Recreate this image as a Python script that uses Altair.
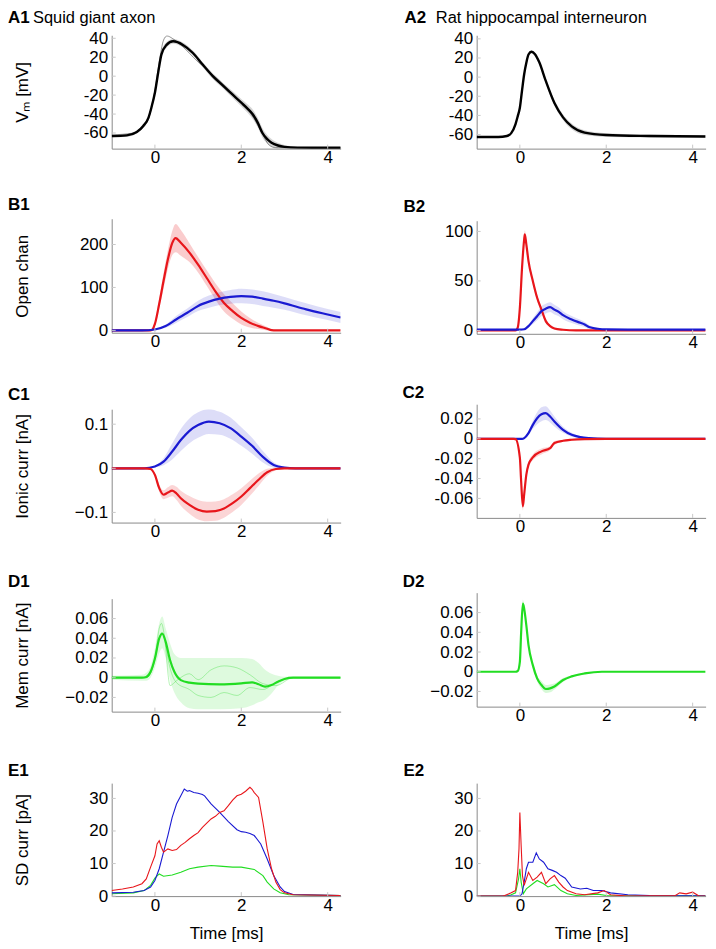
import altair as alt
import pandas as pd

FONT = "Liberation Sans"
RED = "#e8161b"
BLUE = "#1a1ad2"
GREEN = "#22dd22"

XDOM = [-1, 4.3]
XTICKS = [0, 2, 4]

# ---------------- A1: squid membrane potential ----------------
A1_t = [-1, -0.65, -0.42, -0.27, -0.15, -0.08, 0, 0.08, 0.15, 0.27, 0.42, 0.65, 0.88, 1.1, 1.34, 1.6,
        1.8, 2.0, 2.15, 2.26, 2.38, 2.49, 2.6, 2.7, 2.85, 3.0, 3.3, 4.3]
A1_v = [-63.3, -62.5, -59, -52.6, -44, -33, -17.5, 5, 22.8, 33, 36.8, 33, 24.5, 12.5, 0, -11,
        -19.5, -28, -34.5, -40, -49, -60, -66.5, -70.2, -73.2, -74.6, -75.4, -75.6]
A1_sd = [1.5, 1.5, 1.5, 2, 2.5, 3, 3, 3, 3, 3, 2.5, 2.5, 2.5, 2.5, 3, 3,
         3.5, 4, 4.5, 5, 5, 5, 4.5, 4, 3, 2, 1, 0.8]
A1_tr_t = [-1, -0.5, -0.2, 0, 0.1, 0.2, 0.28, 0.4, 0.6, 1.0, 1.5, 2.0, 2.3, 2.5, 2.65, 2.8, 4.3]
A1_tr_v = [-62, -60, -50, -15, 15, 38, 42.5, 40, 33, 15, -5, -28, -45, -62, -73, -75.5, -75.6]

# ---------------- A2: interneuron membrane potential ----------------
A2_t = [-1, -0.5, -0.3, -0.2, -0.1, -0.05, 0, 0.05, 0.1, 0.15, 0.2, 0.27, 0.35, 0.45, 0.6, 0.8, 1.0,
        1.2, 1.5, 2.0, 3.0, 4.3]
A2_v = [-62.5, -62.5, -61.5, -58.5, -49, -41, -32, -14, 3, 15, 23.6, 26.5, 24, 15.5, -4, -27, -42,
        -51.5, -58, -60.5, -61.5, -62]
A2_sd = [0.5, 0.5, 0.5, 0.8, 1, 1, 1, 1, 1, 1, 1, 1.5, 1.5, 2, 2.5, 3, 3, 3, 2.5, 2, 1.5, 1.2]

# ---------------- B1: open channels, squid ----------------
B1_na_t = [-1, -0.1, -0.05, 0, 0.1, 0.2, 0.3, 0.4, 0.48, 0.6, 0.8, 1.0, 1.2, 1.4, 1.6, 1.8, 2.0, 2.2,
           2.4, 2.6, 2.7, 2.8, 4.3]
B1_na = [0, 0, 3, 15, 62, 115, 165, 203, 215, 204, 181, 153, 122, 91, 64, 45, 29, 18, 10, 4, 0.5, 0, 0]
B1_na_sd = [0, 0, 1, 5, 12, 18, 22, 28, 33, 30, 22, 18, 18, 19, 20, 18, 15, 11, 7, 4, 2, 1, 0]
B1_k_t = [-1, -0.3, 0, 0.25, 0.5, 0.75, 1.0, 1.25, 1.5, 1.75, 2.0, 2.25, 2.5, 2.75, 3.0, 3.5, 4.0, 4.3]
B1_k = [0, 0, 2, 10, 26, 41, 57, 67, 74, 78, 80, 78.5, 74, 69, 63, 49, 37, 30]
B1_k_sd = [0.5, 0.5, 1, 4, 8, 10, 12, 14, 15, 16, 17, 17, 17, 16, 15, 14, 13, 13]

# ---------------- B2: open channels, interneuron ----------------
B2_na_t = [-1, -0.1, -0.05, 0, 0.05, 0.1, 0.115, 0.15, 0.2, 0.3, 0.4, 0.5, 0.6, 0.7, 0.8, 1.0, 1.3, 4.3]
B2_na = [0, 0, 2.7, 22.8, 63, 92, 97, 87, 70, 50, 33, 21, 9.4, 4.4, 2, 0.7, 0, 0]
B2_na_sd = [0, 0, 1, 2, 3, 3, 4, 3, 3, 3, 3, 2, 2, 1, 1, 0.5, 0, 0]
B2_k_t = [-1, 0, 0.1, 0.2, 0.3, 0.4, 0.5, 0.6, 0.7, 0.8, 0.9, 1.0, 1.2, 1.4, 1.5, 1.6, 1.8, 2.0, 2.5, 4.3]
B2_k = [0.8, 0.8, 1.2, 4.4, 9.4, 14.4, 19.5, 22, 23.5, 21, 18.8, 15.4, 11, 7.7, 6, 3.4, 1.7, 1, 0.8, 0.8]
B2_k_sd = [0, 0, 0.5, 1.5, 3, 4, 5, 5, 5, 5, 4.5, 4, 3.5, 3, 2.5, 2, 1, 0.5, 0.3, 0.3]

# ---------------- C1: ionic currents, squid ----------------
C1_k_t = [-1, -0.25, 0, 0.2, 0.4, 0.6, 0.8, 1.0, 1.25, 1.5, 1.75, 2.0, 2.25, 2.5, 2.75, 3.0, 3.25, 4.3]
C1_k = [0, 0, 0.004, 0.015, 0.038, 0.064, 0.085, 0.098, 0.106, 0.102, 0.091, 0.072, 0.051, 0.026,
        0.0075, 0.0015, 0, 0]
C1_k_sd = [0, 0, 0.002, 0.008, 0.018, 0.025, 0.028, 0.029, 0.028, 0.026, 0.024, 0.021, 0.018, 0.013,
           0.006, 0.002, 0, 0]
C1_na_t = [-1, -0.25, -0.1, 0, 0.1, 0.2, 0.3, 0.4, 0.5, 0.6, 0.8, 1.0, 1.2, 1.4, 1.6, 1.8, 2.0, 2.2,
           2.4, 2.6, 2.8, 3.0, 4.3]
C1_na = [0, 0, -0.0015, -0.015, -0.045, -0.060, -0.055, -0.0506, -0.057, -0.068, -0.083, -0.094, -0.098,
         -0.097, -0.091, -0.079, -0.064, -0.045, -0.026, -0.009, -0.0015, 0, 0]
C1_na_sd = [0, 0, 0.001, 0.004, 0.008, 0.01, 0.012, 0.013, 0.015, 0.017, 0.02, 0.022, 0.022, 0.022,
            0.021, 0.02, 0.019, 0.017, 0.014, 0.008, 0.003, 0.001, 0]

# ---------------- C2: ionic currents, interneuron ----------------
C2_k_t = [-1, 0.05, 0.1, 0.2, 0.3, 0.4, 0.5, 0.6, 0.7, 0.8, 1.0, 1.2, 1.4, 1.6, 2.0, 4.3]
C2_k = [0, 0, 0.0007, 0.0057, 0.014, 0.0207, 0.0247, 0.0258, 0.0224, 0.0174, 0.009, 0.004, 0.0017,
        0.0007, 0, 0]
C2_k_sd = [0, 0, 0.0005, 0.002, 0.004, 0.006, 0.007, 0.007, 0.006, 0.005, 0.003, 0.002, 0.001, 0.0005, 0, 0]
C2_na_t = [-1, -0.15, -0.1, 0, 0.03, 0.07, 0.1, 0.15, 0.2, 0.3, 0.5, 0.7, 0.75, 0.8, 1.0, 1.2, 1.5, 2.0, 4.3]
C2_na = [0, 0, -0.0003, -0.019, -0.043, -0.068, -0.056, -0.036, -0.026, -0.0187, -0.0127, -0.0094,
         -0.0067, -0.0043, -0.002, -0.001, -0.0003, 0, 0]
C2_na_sd = [0, 0, 0, 0.002, 0.003, 0.004, 0.004, 0.003, 0.003, 0.003, 0.003, 0.002, 0.002, 0.002,
            0.001, 0.001, 0, 0, 0]

# ---------------- D1: membrane current, squid ----------------
D1_t = [-1, -0.3, -0.2, -0.1, 0, 0.1, 0.17, 0.25, 0.35, 0.45, 0.6, 0.8, 1.0, 1.5, 2.0, 2.25, 2.4, 2.55,
        2.7, 2.85, 3.0, 3.2, 4.3]
D1_m = [0, 0, 0.0007, 0.006, 0.0195, 0.0398, 0.0448, 0.0364, 0.0179, 0.006, -0.0024, -0.005, -0.006,
        -0.0067, -0.0057, -0.0047, -0.0067, -0.009, -0.0074, -0.004, -0.0013, 0, 0]
D1_hi = [0.002, 0.003, 0.005, 0.012, 0.03, 0.055, 0.062, 0.05, 0.035, 0.024, 0.02, 0.02, 0.02, 0.02,
         0.02, 0.019, 0.015, 0.008, 0.004, 0.002, 0.001, 0.001, 0.001]
D1_lo = [-0.002, -0.003, -0.003, 0, 0.01, 0.025, 0.03, 0.02, -0.002, -0.015, -0.025, -0.031, -0.032,
         -0.032, -0.031, -0.028, -0.025, -0.022, -0.016, -0.008, -0.003, -0.001, -0.001]
D1_tr_t = [-1, -0.2, 0, 0.1, 0.15, 0.25, 0.3, 0.35, 0.5, 0.8, 1.0, 1.3, 1.6, 1.9, 2.2, 2.5, 2.8, 3.2, 4.3]
D1_tr1 = [0, 0, 0.02, 0.05, 0.055, 0.03, 0.005, -0.008, -0.003, 0.004, -0.002, 0.008, 0.012, 0.01,
          0.003, -0.006, -0.008, 0, 0]
D1_tr2 = [0, 0, 0.018, 0.04, 0.045, 0.035, 0.02, 0.01, -0.005, -0.012, -0.018, -0.02, -0.015, -0.018,
          -0.01, -0.012, -0.005, 0, 0]

# ---------------- D2: membrane current, interneuron ----------------
D2_t = [-1, -0.1, -0.05, 0, 0.03, 0.07, 0.1, 0.15, 0.2, 0.3, 0.4, 0.5, 0.6, 0.7, 0.8, 1.0, 1.2, 1.5, 1.9, 4.3]
D2_m = [0, 0, 0.0007, 0.0101, 0.040, 0.069, 0.064, 0.047, 0.027, 0.0067, -0.0067, -0.0135, -0.0175,
        -0.0169, -0.015, -0.0084, -0.0047, -0.0017, 0, 0]
D2_sd = [0, 0, 0, 0.002, 0.003, 0.004, 0.004, 0.003, 0.003, 0.003, 0.003, 0.004, 0.004, 0.004, 0.003,
         0.002, 0.001, 0.001, 0, 0]

# ---------------- E1: SD of currents, squid ----------------
E1_r_t = [-1, -0.75, -0.5, -0.3, -0.2, -0.1, 0, 0.05, 0.1, 0.15, 0.2, 0.3, 0.4, 0.5, 0.6, 0.7, 0.8, 0.9,
          1.0, 1.1, 1.2, 1.3, 1.4, 1.5, 1.6, 1.7, 1.8, 1.9, 2.0, 2.1, 2.2, 2.25, 2.3, 2.4, 2.5, 2.6,
          2.7, 2.8, 2.9, 3.0, 3.2, 4.3]
E1_r = [1.7, 2.2, 2.8, 3.8, 5.3, 8.9, 12.4, 16, 17, 15, 13.5, 14.5, 14.0, 14.3, 15.6, 16.5, 17.6, 18.6,
        19.5, 21.1, 22.4, 23.7, 24.5, 25.7, 26.2, 27.8, 29.5, 30.8, 31.3, 32.2, 33.4, 32.8, 31.8, 30.3,
        22.7, 14.5, 8.4, 4.3, 2, 1, 0.4, 0.2]
E1_b_t = [-1, -0.5, -0.25, -0.1, 0, 0.1, 0.2, 0.3, 0.4, 0.5, 0.6, 0.68, 0.75, 0.8, 0.9, 1.0, 1.1, 1.15,
          1.3, 1.5, 1.7, 1.9, 2.0, 2.1, 2.2, 2.3, 2.45, 2.6, 2.75, 2.9, 3.0, 3.2, 4.3]
E1_b = [1.0, 1.2, 1.7, 2.8, 4.8, 8.4, 13.5, 18.6, 24.2, 28.3, 30.8, 32.9, 32.2, 32.4, 31.8, 31.6, 31.2,
        30.8, 28.3, 25.7, 22.9, 20.4, 19.8, 19.6, 19.2, 18.6, 16, 11.4, 6.3, 2.8, 1.4, 0.5, 0.2]
E1_g_t = [-1, -0.5, -0.25, -0.1, 0, 0.1, 0.2, 0.4, 0.6, 0.8, 1.0, 1.3, 1.5, 1.8, 2.0, 2.3, 2.5, 2.6,
          2.75, 2.9, 3.1, 4.3]
E1_g = [0.7, 1.0, 1.7, 3.3, 5.5, 6.8, 6.1, 6.5, 7.3, 8.4, 8.9, 9.4, 9.2, 8.9, 8.9, 8.2, 6.3, 4.3, 2.2,
        1.0, 0.4, 0.2]

# ---------------- E2: SD of currents, interneuron ----------------
E2_r_t = [-1, -0.4, -0.35, -0.2, -0.1, -0.05, -0.02, 0, 0.03, 0.06, 0.1, 0.2, 0.3, 0.4, 0.5, 0.6, 0.7,
          0.8, 0.9, 1.0, 1.1, 1.3, 1.5, 1.8, 1.95, 2.1, 2.5, 3.6, 3.7, 3.85, 4.0, 4.1, 4.15, 4.3]
E2_r = [0, 0, 0.2, 1, 1.7, 7.3, 14.5, 25.7, 15.5, 6.3, 3.3, 7.3, 4.8, 5.8, 7.3, 3.8, 5.3, 6.3, 4.3, 2.8,
        1.7, 0.7, 0.4, 1, 1.7, 0.4, 0, 0.2, 1, 0.7, 1.2, 0.4, 0, 0]
E2_b_t = [-1, 0, 0.05, 0.1, 0.15, 0.2, 0.3, 0.38, 0.45, 0.55, 0.65, 0.75, 0.85, 0.95, 1.05, 1.2, 1.4,
          1.55, 1.7, 1.9, 2.1, 2.5, 3.0, 4.3]
E2_b = [0, 0, 0.7, 4.3, 8.4, 10.4, 10.4, 13.3, 11.4, 10.4, 8.4, 7.9, 7.3, 6.3, 5.5, 2.8, 2.2, 2.4, 1.7,
        1.7, 1.0, 0.4, 0.2, 0.1]
E2_g_t = [-1, -0.3, -0.2, -0.1, -0.03, 0, 0.03, 0.08, 0.15, 0.3, 0.4, 0.55, 0.65, 0.8, 0.95, 1.1, 1.3,
          1.8, 2.0, 4.3]
E2_g = [0, 0, 0.4, 1, 5.3, 8.4, 4.3, 0.7, 2.2, 3.8, 4.8, 3.8, 2.8, 3.5, 1.7, 0.7, 0.2, 0.6, 0.2, 0.1]

LABEL_SIZE = 17
PAGE_BOTTOM = 940   # bottom of the drawing, page pixels
PAGE_RIGHT = 708    # right edge of the drawing, page pixels (body is 700 px wide)


def pm(v, sd):
    return [a - b for a, b in zip(v, sd)], [a + b for a, b in zip(v, sd)]


def panel(w, h, box, ydom, yticks, ytitle, xtitle, tag, tag_text, tag_dx, text_dx, tag_dy,
          lines, bands, traces=(), hyphen=False, step=False):
    L, R, T, B = box
    xscale = alt.Scale(domain=XDOM, nice=False, zero=False)
    yscale = alt.Scale(domain=ydom, nice=False, zero=False)
    xargs = dict(values=XTICKS, format=".6~g", title=xtitle if xtitle else None)
    if xtitle:
        xargs.update(titleFont=FONT, titleFontSize=17, titleFontWeight="normal",
                     titleColor="black", titleY=B - 8.5, titleBaseline="middle")
    xaxis = alt.Axis(**xargs)
    yargs = dict(values=yticks, format=".6~g", title=ytitle if ytitle else None)
    if hyphen:
        yargs["labelExpr"] = "replace(datum.label, '\u2212', '-')"
    if ytitle:
        yargs.update(titleX=-89, titleY=h / 2, titleBaseline="middle", titleAlign="center",
                     titleAngle=270, titleFont=FONT, titleFontSize=17,
                     titleFontWeight="normal", titleColor="black")
    yaxis = alt.Axis(**yargs)
    X = alt.X("t:Q", scale=xscale, axis=xaxis)
    Y = alt.Y("v:Q", scale=yscale, axis=yaxis)
    layers = []
    # invisible frame that fixes this panel's outer box
    layers.append(alt.Chart(pd.DataFrame({"s": [0]})).mark_rect(opacity=0).encode(
        x=alt.value(-L), x2=alt.value(w + R), y=alt.value(-T), y2=alt.value(h + B)))
    for (t, lo, hi, color, op) in bands:
        df = pd.DataFrame({"t": t, "v": lo, "hi": hi})
        layers.append(alt.Chart(df).mark_area(color=color, opacity=op, clip=True,
                                               interpolate="monotone").encode(x=X, y=Y, y2="hi:Q"))
    for (t, v, color, sw, op) in traces:
        layers.append(alt.Chart(pd.DataFrame({"t": t, "v": v})).mark_line(
            color=color, strokeWidth=sw, opacity=op, clip=True, interpolate="monotone").encode(x=X, y=Y))
    for (t, v, color, sw) in lines:
        layers.append(alt.Chart(pd.DataFrame({"t": t, "v": v})).mark_line(
            color=color, strokeWidth=sw, clip=True,
            interpolate="linear" if step else "monotone").encode(x=X, y=Y))
    # inward tick marks
    layers.append(alt.Chart(pd.DataFrame({"t": XTICKS})).mark_rule(color="#c8c8c8", strokeWidth=1).encode(
        x=X, y=alt.value(h), y2=alt.value(h - 4)))
    layers.append(alt.Chart(pd.DataFrame({"v": yticks})).mark_rule(color="#c8c8c8", strokeWidth=1).encode(
        y=Y, x=alt.value(0), x2=alt.value(4)))
    # panel tag
    layers.append(alt.Chart(pd.DataFrame({"s": [tag]})).mark_text(
        align="left", baseline="alphabetic", font=FONT, fontSize=17, fontWeight="bold",
        color="black").encode(text="s:N", x=alt.value(tag_dx), y=alt.value(tag_dy)))
    if tag_text:
        layers.append(alt.Chart(pd.DataFrame({"s": [tag_text]})).mark_text(
            align="left", baseline="alphabetic", font=FONT, fontSize=16.5,
            color="black").encode(text="s:N", x=alt.value(text_dx), y=alt.value(tag_dy)))
    return alt.layer(*layers).properties(width=w, height=h)


W = 229.6
X1 = 112        # page x of column-1 plots
X2A = 476.3     # page x of A2 plot
X2 = 478        # page x of B2..E2 plots
SPLIT = 360     # boundary between the two column boxes
L1, R1 = X1 - 8, SPLIT - X1 - W
L2a, R2a = X2A - SPLIT, PAGE_RIGHT - X2A - W
L2, R2 = X2 - SPLIT, PAGE_RIGHT - X2 - W

A1 = panel(W, 113.7, (L1, R1, 26, 180 - 147.7), [-76.5, 43.2], [-60, -40, -20, 0, 20, 40], "V\u2098 [mV]", None,
           "A1", "Squid giant axon", -104, -79, -12,
           lines=[(A1_t, A1_v, "black", 2.4)],
           bands=[(A1_t, *pm(A1_v, A1_sd), "#888", 0.35)],
           traces=[(A1_tr_t, A1_tr_v, "#555", 0.8, 0.8)], hyphen=True)
A2 = panel(W, 113.7, (L2a, R2a, 26, 180 - 147.7), [-74.7, 43.75], [-60, -40, -20, 0, 20, 40], None, None,
           "A2", "Rat hippocampal interneuron", -72.3, -41, -12,
           lines=[(A2_t, A2_v, "black", 2.4)],
           bands=[(A2_t, *pm(A2_v, A2_sd), "#888", 0.35)],
           hyphen=True)

B1 = panel(W, 114.3, (L1, R1, 217.3 - 180, 370 - 331.6), [-5.4, 260], [0, 100, 200], "Open chan", None,
           "B1", None, -104, 0, -8.3,
           lines=[(B1_na_t, B1_na, RED, 2.2), (B1_k_t, B1_k, BLUE, 2.2)],
           bands=[(B1_na_t, *pm(B1_na, B1_na_sd), RED, 0.22),
                  (B1_k_t, *pm(B1_k, B1_k_sd), BLUE, 0.15)])
B2 = panel(W, 113.4, (L2, R2, 219.3 - 180, 365 - 332.7), [-3.4, 110.8], [0, 50, 100], None, None,
           "B2", None, -73.3, 0, -8.6,
           lines=[(B2_na_t, B2_na, RED, 2.2), (B2_k_t, B2_k, BLUE, 2.2)],
           bands=[(B2_na_t, *pm(B2_na, B2_na_sd), RED, 0.22),
                  (B2_k_t, *pm(B2_k, B2_k_sd), BLUE, 0.15)])

C1 = panel(W, 113.7, (L1, R1, 407.3 - 370, 560 - 521), [-0.123, 0.134], [-0.1, 0, 0.1], "Ionic curr [nA]", None,
           "C1", None, -104, 0, -9,
           lines=[(C1_k_t, C1_k, BLUE, 2.2), (C1_na_t, C1_na, RED, 2.2)],
           bands=[(C1_k_t, *pm(C1_k, C1_k_sd), BLUE, 0.15),
                  (C1_na_t, *pm(C1_na, C1_na_sd), RED, 0.18)])
C2 = panel(W, 114, (L2, R2, 402.7 - 365, 550 - 516.7), [-0.0796, 0.0348], [-0.06, -0.04, -0.02, 0, 0.02], None, None,
           "C2", None, -74.3, 0, -6,
           lines=[(C2_k_t, C2_k, BLUE, 2.2), (C2_na_t, C2_na, RED, 2.2)],
           bands=[(C2_k_t, *pm(C2_k, C2_k_sd), BLUE, 0.15),
                  (C2_na_t, *pm(C2_na, C2_na_sd), RED, 0.18)],
           hyphen=True)

D1 = panel(W, 113.3, (L1, R1, 596.7 - 560, 745 - 710), [-0.0344, 0.0802], [-0.02, 0, 0.02, 0.04, 0.06],
           "Mem curr [nA]", None, "D1", None, -104, 0, -11.7,
           lines=[(D1_t, D1_m, GREEN, 2.2)],
           bands=[(D1_t, D1_lo, D1_hi, GREEN, 0.15)],
           traces=[(D1_tr_t, D1_tr1, GREEN, 0.8, 0.4), (D1_tr_t, D1_tr2, GREEN, 0.8, 0.4)])
D2 = panel(W, 114.3, (L2, R2, 590.7 - 550, 745 - 705), [-0.0354, 0.0802], [-0.02, 0, 0.02, 0.04, 0.06], None, None,
           "D2", None, -74, 0, -5.7,
           lines=[(D2_t, D2_m, GREEN, 2.2)],
           bands=[(D2_t, *pm(D2_m, D2_sd), GREEN, 0.18)])

E1 = panel(W, 113.3, (L1, R1, 780.7 - 745, PAGE_BOTTOM - 894), [0, 34.7], [0, 10, 20, 30], "SD curr [pA]",
           "Time [ms]", "E1", None, -104, 0, -6.7,
           lines=[(E1_g_t, E1_g, GREEN, 1.1), (E1_b_t, E1_b, BLUE, 1.1), (E1_r_t, E1_r, RED, 1.1)],
           bands=[], step=True)
E2 = panel(W, 113.3, (L2, R2, 780.7 - 745, PAGE_BOTTOM - 894), [0, 34.7], [0, 10, 20, 30], None, "Time [ms]",
           "E2", None, -73.3, 0, -6.7,
           lines=[(E2_g_t, E2_g, GREEN, 1.1), (E2_b_t, E2_b, BLUE, 1.1), (E2_r_t, E2_r, RED, 1.1)],
           bands=[], step=True)

col1 = alt.vconcat(A1, B1, C1, D1, E1, spacing=0)
col2 = alt.vconcat(A2, B2, C2, D2, E2, spacing=0)

chart = alt.hconcat(col1, col2, spacing=0).properties(
    padding=0
).configure_view(stroke=None).configure_axis(
    domainColor="#8a8a8a", domainWidth=1, ticks=False, tickSize=0, grid=False,
    labelFont=FONT, labelFontSize=LABEL_SIZE, labelColor="black", labelPadding=1,
).configure_axisLeft(labelPadding=4)

chart.save("out.html", embed_options={"renderer": "svg", "actions": False})
